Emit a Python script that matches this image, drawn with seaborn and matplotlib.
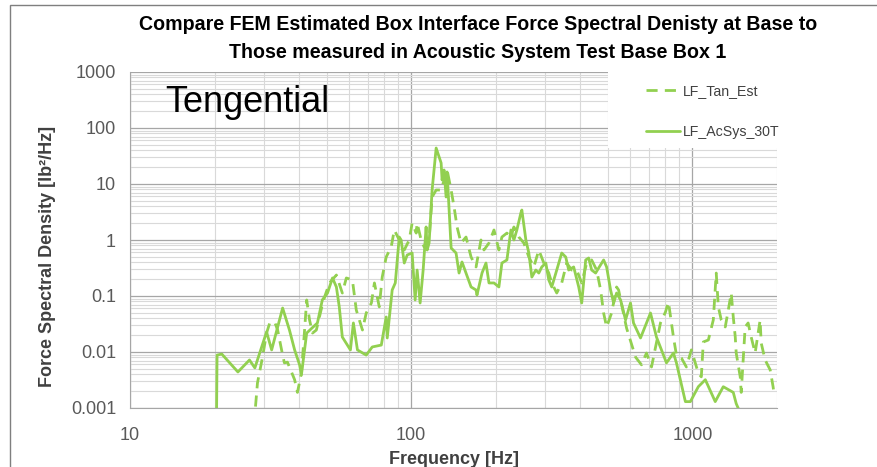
import numpy as np
import pandas as pd
import seaborn as sns
from matplotlib import pyplot as plt
from matplotlib import ticker
from matplotlib.patches import Rectangle

# values (Hz, lb^2/Hz)
est_freq = [27.6, 28.4, 29.6, 30.6, 31.4, 32.7, 33.5, 34.6, 35.4, 36.3, 38.5, 39.4, 40.7, 41.7,
            42.5, 43.5, 44.6, 46.0, 48.0, 49.2, 51.2, 54.2, 56.9, 58.8, 61.8, 63.8, 67.1, 69.2,
            72.2, 74.0, 77.0, 78.9, 81.5, 84.9, 87.1, 90.7, 94.5, 98.4, 100.8, 104.2, 105.0,
            108.5, 111.2, 115.8, 118.7, 122.7, 127.8, 130.9, 134.2, 138.7, 142.1, 145.6, 150.4,
            156.7, 163.3, 170.1, 177.1, 181.5, 189.1, 197.0, 205.1, 210.2, 219.0, 226.3, 231.9,
            241.5, 251.6, 262.1, 273.0, 284.4, 296.3, 308.6, 316.2, 329.4, 343.1, 357.4, 372.3,
            387.9, 404.1, 420.9, 438.4, 456.6, 471.8, 483.5, 495.5, 516.1, 537.7, 546.6, 583.4,
            628.0, 659.4, 687.0, 715.7, 770.2, 802.4, 822.3, 856.5, 877.7, 914.3, 952.2, 992.0,
            1050, 1076, 1094, 1140, 1187, 1216, 1237, 1267, 1309, 1342, 1375, 1398, 1421, 1432,
            1480, 1492, 1541, 1579, 1619, 1672, 1742, 1757, 1815, 1891, 1937, 1954]
est_psd = [0.0005, 0.0028, 0.0081, 0.0218, 0.033, 0.0343, 0.0247, 0.0109, 0.0064, 0.0066, 0.0032,
           0.0019, 0.0042, 0.0218, 0.085, 0.0373, 0.0218, 0.0247, 0.061, 0.096, 0.171, 0.237,
           0.113, 0.21, 0.193, 0.056, 0.0247, 0.0497, 0.075, 0.171, 0.064, 0.218, 0.497, 0.75,
           1.51, 1.0, 0.663, 1.0, 2.01, 1.33, 2.01, 1.0, 0.75, 1.0, 5.86, 7.81, 7.81, 11.8, 17.8,
           7.81, 3.88, 1.71, 0.884, 1.13, 0.497, 0.33, 1.0, 0.663, 0.884, 1.51, 0.663, 1.13, 1.33,
           1.13, 1.71, 1.13, 0.884, 0.497, 0.33, 0.663, 0.388, 0.257, 0.171, 0.113, 0.171, 0.388,
           0.291, 0.291, 0.171, 0.388, 0.44, 0.291, 0.128, 0.0497, 0.0279, 0.0497, 0.145, 0.128,
           0.0268, 0.0081, 0.0059, 0.0096, 0.0054, 0.033, 0.0518, 0.078, 0.0185, 0.0088, 0.0078,
           0.0054, 0.0109, 0.0042, 0.0036, 0.0151, 0.0164, 0.0373, 0.257, 0.064, 0.0373, 0.028,
           0.056, 0.113, 0.0422, 0.0185, 0.0096, 0.0036, 0.0019, 0.028, 0.033, 0.0185, 0.0096,
           0.0373, 0.0145, 0.0072, 0.0048, 0.0024, 0.0017]

acs_freq = [20.3, 20.4, 21.2, 24.2, 26.6, 27.8, 30.6, 31.9, 34.9, 36.9, 38.5, 40.1, 40.7, 42.5,
            46.4, 48.3, 50.4, 52.5, 54.2, 55.5, 56.9, 60.8, 62.3, 64.4, 69.2, 72.7, 78.3, 81.5,
            82.2, 85.6, 87.8, 90.7, 92.1, 94.5, 96.8, 100.8, 103.3, 105.0, 107.6, 110.3, 113.0,
            114.0, 115.8, 118.7, 122.7, 127.8, 128.8, 130.9, 133.1, 134.2, 138.7, 144.4, 148.0,
            151.6, 163.3, 170.1, 171.4, 178.6, 184.5, 189.1, 197.0, 205.1, 210.2, 219.0, 226.3,
            231.9, 237.6, 245.5, 247.5, 255.8, 262.1, 268.6, 277.5, 284.4, 291.4, 301.2, 308.6,
            316.2, 329.4, 343.1, 354.5, 363.3, 378.4, 394.3, 404.1, 417.5, 427.8, 438.4, 452.9,
            464.2, 483.5, 495.5, 511.9, 524.8, 537.7, 555.6, 578.6, 602.6, 617.6, 654.1, 709.8,
            745.4, 809.0, 856.5, 877.7, 944.5, 983.8, 1050, 1112, 1206, 1288, 1398, 1432, 1500]
acs_psd = [0.0005, 0.0088, 0.0092, 0.0044, 0.0072, 0.0052, 0.0228, 0.0109, 0.061, 0.0247, 0.0109,
           0.0059, 0.0039, 0.0218, 0.033, 0.085, 0.113, 0.21, 0.145, 0.064, 0.0185, 0.0109,
           0.033, 0.0109, 0.0088, 0.0123, 0.0133, 0.0422, 0.0178, 0.128, 0.171, 1.13, 1.0, 0.388,
           0.54, 0.586, 0.085, 0.291, 0.075, 0.291, 1.71, 0.663, 0.884, 7.81, 43.9, 23.7, 11.8,
           17.8, 5.86, 16.4, 0.72, 0.586, 0.257, 0.405, 0.145, 0.128, 0.104, 0.257, 0.388, 0.171,
           0.171, 0.145, 0.388, 0.44, 1.51, 1.0, 1.51, 3.03, 3.43, 1.0, 0.586, 0.218, 0.291,
           0.257, 0.33, 0.388, 0.193, 0.145, 0.291, 0.586, 0.497, 0.291, 0.33, 0.145, 0.075, 0.44,
           0.477, 0.291, 0.257, 0.316, 0.44, 0.33, 0.128, 0.075, 0.113, 0.085, 0.0373, 0.075,
           0.033, 0.0178, 0.0497, 0.0185, 0.0064, 0.0096, 0.0064, 0.0013, 0.0013, 0.0024,
           0.0032, 0.0013, 0.0024, 0.0019, 0.0012, 0.0007]

series_labels = ["LF_Tan_Est", "LF_AcSys_30T"]
y_ticks = [0.001, 0.01, 0.1, 1, 10, 100, 1000]
x_ticks = [10, 100, 1000]

sns.set_style("white")
plt.rcParams["font.family"] = ["Liberation Sans", "DejaVu Sans"]

green = "#92D050"
fig = plt.figure(figsize=(8.77, 4.67), dpi=100)
ax = fig.add_axes([130/877, 1-408/467, 647/877, 336/467])

est_df = pd.DataFrame({"freq": est_freq, "psd": est_psd})
acs_df = pd.DataFrame({"freq": acs_freq, "psd": acs_psd})
sns.lineplot(data=est_df, x="freq", y="psd", ax=ax, color=green, lw=2.0,
             linestyle=(0, (4, 2.6)), label=series_labels[0], sort=False)
sns.lineplot(data=acs_df, x="freq", y="psd", ax=ax, color=green, lw=2.0,
             label=series_labels[1], sort=False)

ax.set_xscale("log")
ax.set_yscale("log")
ax.set_xlim(10, 2000)
ax.set_ylim(0.001, 1000)
ax.set_xticks(x_ticks)
ax.set_yticks(y_ticks)
ax.xaxis.set_major_formatter(ticker.FuncFormatter(lambda v, p: "%g" % v))
ax.yaxis.set_major_formatter(ticker.FuncFormatter(lambda v, p: "%g" % v))
ax.xaxis.set_minor_locator(ticker.LogLocator(base=10, subs=np.arange(2, 10)))
ax.yaxis.set_minor_locator(ticker.LogLocator(base=10, subs=np.arange(2, 10), numticks=20))
ax.xaxis.set_minor_formatter(ticker.NullFormatter())
ax.yaxis.set_minor_formatter(ticker.NullFormatter())

ax.set_axisbelow(True)
ax.grid(which="major", color="#A6A6A6", lw=0.9)
ax.grid(which="minor", color="#D9D9D9", lw=0.8)
ax.tick_params(which="major", length=6, color="#A6A6A6", labelsize=13, labelcolor="#595959")
ax.tick_params(axis="x", which="major", pad=8)
ax.tick_params(axis="y", which="major", pad=4)
ax.tick_params(which="minor", length=0)
for s in ["top", "right"]:
    ax.spines[s].set_visible(False)
for s in ["left", "bottom"]:
    ax.spines[s].set_color("#A6A6A6")

# white block behind the legend
ax.add_patch(Rectangle(((608-130)/647, (408-148)/336), 1, 1, transform=ax.transAxes,
                       facecolor="white", edgecolor="none", zorder=1, clip_on=False))

ax.set_xlabel("Frequency [Hz]", fontsize=13, fontweight="bold", color="#404040", labelpad=5)
ax.set_ylabel("")
fig.text(48/877, 1-256/467, "Force Spectral Density [lb²/Hz]", rotation=90, ha="center",
         va="center", fontsize=13, fontweight="bold", color="#404040")

ax.text((165-130)/647, 1-(103-72)/336, "Tengential", transform=ax.transAxes, fontsize=26,
        va="center", ha="left", color="black")

fig.text(478/877, 1-25/467, "Compare FEM Estimated Box Interface Force Spectral Denisty at Base to",
         ha="center", va="center", fontsize=14.1, fontweight="bold", color="black")
fig.text(478/877, 1-52/467, "Those measured in Acoustic System Test Base Box 1",
         ha="center", va="center", fontsize=14.1, fontweight="bold", color="black")

ax.get_legend().remove()
handles = ax.get_lines()[:2]
fig.legend(handles, series_labels, loc="upper left", bbox_to_anchor=(633/877, 1-71/467),
           frameon=False, fontsize=10.2, handlelength=2.4, handletextpad=0.25, labelspacing=1.9,
           labelcolor="#404040")

fig.patches.append(Rectangle((10/877, -0.1), 1.2, 1.1-5/467, transform=fig.transFigure,
                             fill=False, edgecolor="#7F7F7F", lw=1))

fig.savefig("out.png", dpi=100)
